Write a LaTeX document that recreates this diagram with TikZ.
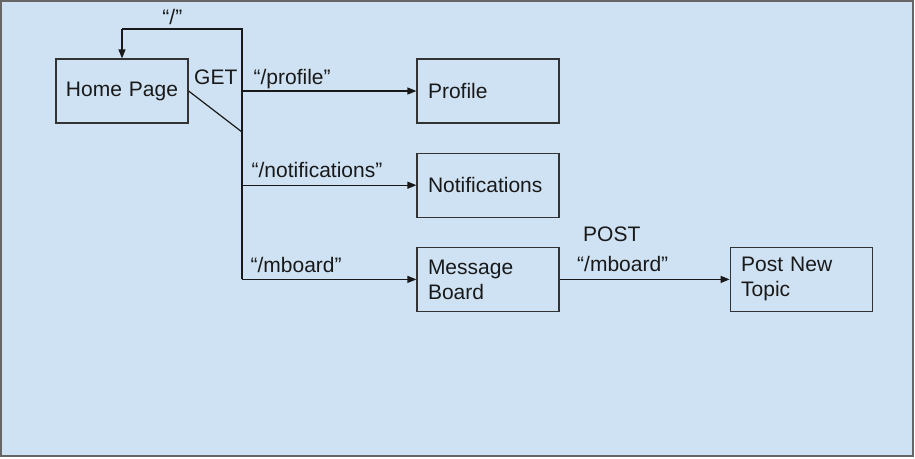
\documentclass[tikz,border=0pt]{standalone}
\usepackage{fontspec}
\setmainfont{Liberation Sans}
\usetikzlibrary{positioning, arrows.meta}
\definecolor{pagebg}{HTML}{CFE2F3}
\definecolor{edge}{HTML}{333333}
\definecolor{frame}{HTML}{666666}

\begin{document}
\begin{tikzpicture}[
  x=1pt, y=-1pt,
  % ---- Style definitions ----
  page/.style={
    draw=edge, line width=1.2pt, minimum width=142pt, minimum height=64pt,
    text width=120pt, inner xsep=11pt, inner ysep=0pt, align=left,
    text=black!90, font=\fontsize{21}{25}\selectfont
  },
  link/.style={
    draw=black!90, line width=1.2pt
  },
  arr/.style={
    link, -{Triangle[length=9pt, width=7pt]}
  },
  lbl/.style={
    font=\fontsize{21}{25}\selectfont, text=black!90, inner sep=0pt,
    anchor=base west, pos=0
  },
]

% ---- Canvas ----
\useasboundingbox (0,0) rectangle (915,458);
\draw[fill=pagebg, draw=frame, line width=1.5pt] (1,1) rectangle (913,456);

% ---- Pages ----
\node[page, minimum width=132pt, inner xsep=6pt, align=center] (home) at (122,91) {Home Page};

\node[page] (profile) at (488,91) {Profile};

\node[page, below=29pt of profile] (notif) {Notifications};

\node[page, below=29pt of notif] (mboard) {Message Board};

\node[page, right=170pt of mboard] (newtopic) {Post New Topic};

% ---- GET bus ----
\coordinate (bustop) at (242,29);
\coordinate (busjoin) at (242,132);

\draw[link] (home.east) -- (busjoin);
\draw[link] (bustop |- mboard.west) -- (bustop)
  -- node[lbl, anchor=base, pos=0.58, yshift=5pt] {“/”} (bustop -| home.north);
\draw[arr] (bustop -| home.north) -- (home.north);

% ---- Routes ----
\draw[arr] (bustop |- profile.west) --
  node[lbl, xshift=11pt, yshift=7pt] {“/profile”}
  node[lbl, anchor=base east, xshift=-4pt, yshift=7pt] {GET} (profile.west);
\draw[arr] (bustop |- notif.west) --
  node[lbl, xshift=9pt, yshift=8pt] {“/notifications”} (notif.west);
\draw[arr] (bustop |- mboard.west) --
  node[lbl, xshift=8pt, yshift=7pt] {“/mboard”} (mboard.west);

\draw[arr] (mboard) --
  node[lbl, xshift=17pt, yshift=8pt] {“/mboard”}
  node[lbl, xshift=23pt, yshift=38pt] {POST} (newtopic);

\end{tikzpicture}
\end{document}
